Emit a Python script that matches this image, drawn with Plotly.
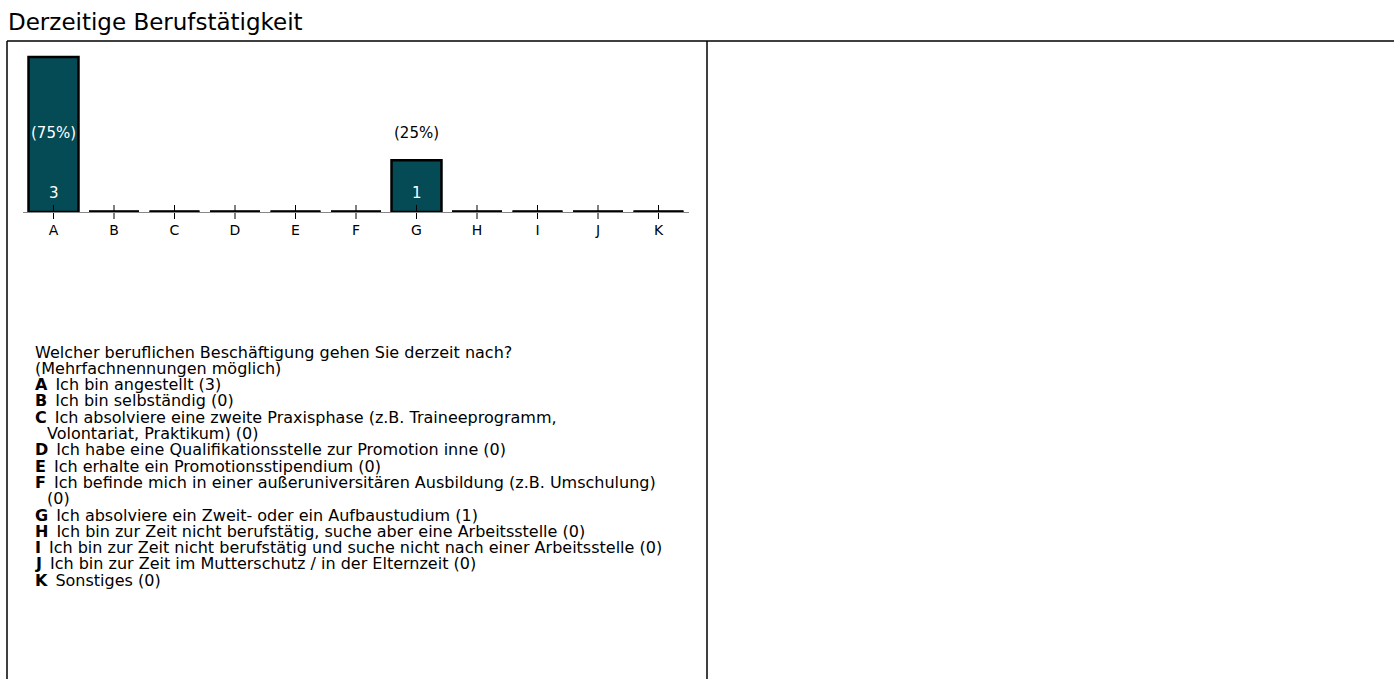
import plotly.graph_objects as go

categories = ["A", "B", "C", "D", "E", "F", "G", "H", "I", "J", "K"]
counts = [3, 0, 0, 0, 0, 0, 1, 0, 0, 0, 0]
total = 4
title_text = "Derzeitige Berufstätigkeit"
question_lines = [
    "Welcher beruflichen Beschäftigung gehen Sie derzeit nach?",
    "(Mehrfachnennungen möglich)",
]
answer_lines = [
    ("A", "Ich bin angestellt (3)"),
    ("B", "Ich bin selbständig (0)"),
    ("C", "Ich absolviere eine zweite Praxisphase (z.B. Traineeprogramm,"),
    ("", "Volontariat, Praktikum) (0)"),
    ("D", "Ich habe eine Qualifikationsstelle zur Promotion inne (0)"),
    ("E", "Ich erhalte ein Promotionsstipendium (0)"),
    ("F", "Ich befinde mich in einer außeruniversitären Ausbildung (z.B. Umschulung)"),
    ("", "(0)"),
    ("G", "Ich absolviere ein Zweit- oder ein Aufbaustudium (1)"),
    ("H", "Ich bin zur Zeit nicht berufstätig, suche aber eine Arbeitsstelle (0)"),
    ("I", "Ich bin zur Zeit nicht berufstätig und suche nicht nach einer Arbeitsstelle (0)"),
    ("J", "Ich bin zur Zeit im Mutterschutz / in der Elternzeit (0)"),
    ("K", "Sonstiges (0)"),
]

W, H = 1394, 679
FONT = "DejaVu Sans, Liberation Sans, Arial, sans-serif"
BAR_COLOR = "#044b56"
BAR_W = 0.826
UNIT = 51.7          # px per count
BASE_Y = 212         # baseline pixel row


def px(x):
    return x / W


def py(y):
    return 1 - y / H


xs = list(range(len(categories)))

fig = go.Figure()
fig.add_trace(go.Bar(
    x=xs, y=counts, width=BAR_W, cliponaxis=False,
    marker=dict(color=BAR_COLOR, line=dict(color="black", width=2.5)),
    hoverinfo="skip", showlegend=False,
))

# zero-value bars: outline only on baseline
zx, zy = [], []
for i, c in enumerate(counts):
    if c == 0:
        zx += [i - BAR_W / 2, i + BAR_W / 2, None]
        zy += [0, 0, None]
fig.add_trace(go.Scatter(x=zx, y=zy, mode="lines", line=dict(color="black", width=3.5),
                         cliponaxis=False, hoverinfo="skip", showlegend=False))

# crossing tick marks
fig.add_trace(go.Scatter(x=xs, y=[0] * len(xs), mode="markers", cliponaxis=False,
                         marker=dict(symbol="line-ns-open", size=10, color="black",
                                     line=dict(color="black", width=1)),
                         hoverinfo="skip", showlegend=False))

Y_PCT = 1.52
Y_CNT = 0.36
for i, c in enumerate(counts):
    if c > 0:
        pct = f"({round(100 * c / total)}%)"
        fig.add_annotation(x=i, y=Y_PCT, xref="x", yref="y", text=pct, showarrow=False,
                           font=dict(family=FONT, size=15, color="white" if c > Y_PCT else "black"))
        fig.add_annotation(x=i, y=Y_CNT, xref="x", yref="y", text=str(c), showarrow=False,
                           font=dict(family=FONT, size=15, color="white"))

# frame lines
line_style = dict(color="black", width=1.5)
fig.add_shape(type="line", xref="paper", yref="paper", x0=px(7), x1=px(W), y0=py(41), y1=py(41), line=line_style)
fig.add_shape(type="line", xref="paper", yref="paper", x0=px(7), x1=px(7), y0=py(41), y1=py(H), line=line_style)
fig.add_shape(type="line", xref="paper", yref="paper", x0=px(707), x1=px(707), y0=py(41), y1=py(H), line=line_style)

# title
fig.add_annotation(x=px(7), y=py(22), xref="paper", yref="paper", text=title_text, showarrow=False,
                   xanchor="left", yanchor="middle", borderpad=0,
                   font=dict(family=FONT, size=23, color="black"))

# question text
LINE_H = 16.3
TXT_SIZE = 16
y0 = 352
row = 0
for ln in question_lines:
    fig.add_annotation(x=px(34), y=py(y0 + row * LINE_H), xref="paper", yref="paper", text=ln,
                       showarrow=False, xanchor="left", yanchor="middle", borderpad=0,
                       font=dict(family=FONT, size=TXT_SIZE, color="black"))
    row += 1
for letter, txt in answer_lines:
    if letter:
        text = f"<b>{letter}</b>\u2002{txt}"
        x = 34
    else:
        text = txt
        x = 46
    fig.add_annotation(x=px(x), y=py(y0 + row * LINE_H), xref="paper", yref="paper",
                       text=text, showarrow=False, xanchor="left", yanchor="middle", borderpad=0,
                       font=dict(family=FONT, size=TXT_SIZE, color="black"))
    row += 1

y_top = 3.3
x_left = 53.5 - 30.25
x_right = 658.5 + 30.25
fig.update_layout(
    width=W, height=H,
    margin=dict(l=0, r=0, t=0, b=0),
    paper_bgcolor="white", plot_bgcolor="white",
    xaxis=dict(domain=[px(x_left), px(x_right)], range=[-0.5, len(categories) - 0.5],
               tickvals=xs, ticktext=categories, showgrid=False, zeroline=False,
               showline=True, linecolor="#888888", linewidth=1,
               ticks="outside", ticklen=5, tickcolor="rgba(0,0,0,0)",
               tickfont=dict(family=FONT, size=14, color="black"), fixedrange=True),
    yaxis=dict(domain=[py(BASE_Y), py(BASE_Y - y_top * UNIT)], range=[0, y_top],
               showgrid=False, zeroline=False, showline=False, showticklabels=False, ticks="",
               fixedrange=True),
)

fig.write_html("out.html", config={"displayModeBar": False},
               post_script="document.body.style.margin='0';document.body.style.overflow='hidden';")
